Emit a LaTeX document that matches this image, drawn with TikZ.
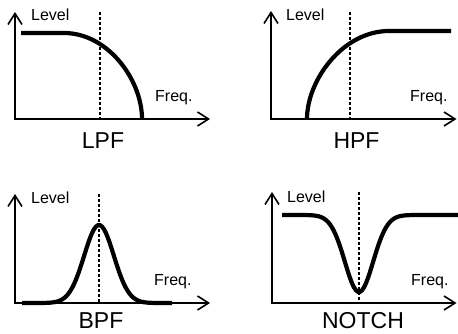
\documentclass[tikz,border=0pt]{standalone}
\usepackage{fontspec}
\setmainfont{Liberation Sans}
\usetikzlibrary{arrows.meta}
\begin{document}
\begin{tikzpicture}[x=1pt,y=-1pt,
  barb/.tip={Straight Barb[length=11pt,width=14pt,line width=1.6pt]},
  axes/.style={line width=1.6pt,barb-barb,line join=miter},
  cutoff/.style={line width=1.4pt,dash pattern=on 3pt off 2pt},
  resp/.style={line width=4.2pt},
  small/.style={font=\fontsize{16}{16}\selectfont,inner sep=0pt,anchor=base west},
  title/.style={font=\fontsize{23}{23}\selectfont,inner sep=0pt,anchor=base}]
\useasboundingbox[fill=white] (0,0) rectangle (458,334);
% LPF
\draw[axes] (15,12) -- (15,119) -- (210,119);
\draw[cutoff] (100,12) -- (100,119);
\draw[resp] (21,33) -- (64,33) .. controls (108,33) and (142,80) .. (142,119);
\node[small] (lpfl) at (31,21) {Level};
\node[small] (lpff) at (155,102) {Freq.};
\node[title] (lpf) at (103,149) {LPF};
% HPF
\draw[axes] (271,11) -- (271,119) -- (456.5,119);
\draw[cutoff] (350,12) -- (350,119);
\draw[resp] (307,119) .. controls (307,80) and (343,31) .. (389,31) -- (451,31);
\node[small] (hpfl) at (286,21) {Level};
\node[small] (hpff) at (410,102) {Freq.};
\node[title] (hpf) at (356.5,149) {HPF};
% BPF
\draw[axes] (15,194) -- (15,303) -- (210,303);
\draw[cutoff] (99,194) -- (99,303);
\draw[resp] plot[smooth,domain=22:172,samples=76] (\x,{303-78*exp(-((\x-99)/21)*((\x-99)/21))});
\node[small] (bpfl) at (31,204) {Level};
\node[small] (bpff) at (154,285) {Freq.};
\node[title] (bpf) at (101,328) {BPF};
% NOTCH
\draw[axes] (272,192) -- (272,303) -- (456.5,303);
\draw[cutoff] (359,192) -- (359,303);
\draw[resp] plot[smooth,domain=282:458,samples=89] (\x,{215+77*exp(-((\x-359)/20)*((\x-359)/20))});
\node[small] (notl) at (287,203) {Level};
\node[small] (notf) at (411,285) {Freq.};
\node[title] (notch) at (363,328) {NOTCH};
\end{tikzpicture}
\end{document}
